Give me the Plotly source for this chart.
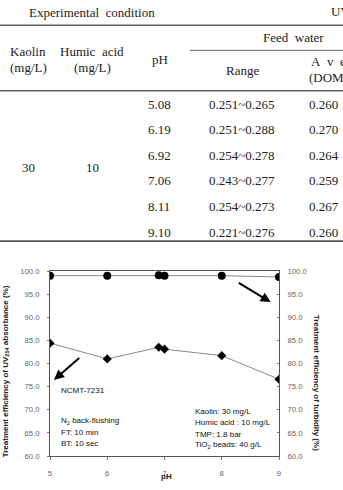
import plotly.graph_objects as go

# ---- data ----
table_ph = ["5.08", "6.19", "6.92", "7.06", "8.11", "9.10"]
table_range = ["0.251~0.265", "0.251~0.288", "0.254~0.278", "0.243~0.277", "0.254~0.273", "0.221~0.276"]
table_avg = ["0.260", "0.270", "0.264", "0.259", "0.267", "0.260"]
kaolin = "30"
humic = "10"

ph_plot = [5, 6, 6.9, 7, 8, 9]
uv_eff = [84.4, 81.0, 83.5, 83.1, 81.7, 76.6]
turb_eff = [99.0, 99.0, 99.1, 99.0, 99.0, 98.7]

W, H = 343, 490
L, R, T, B = 50, 279, 271, 463

def px(x):
    return (x - L) / (R - L)

def py(y):
    return (B - y) / (B - T)

fig = go.Figure()
fig.add_trace(go.Scatter(x=ph_plot, y=uv_eff, mode="lines+markers",
                         line=dict(color="#8a8a8a", width=1),
                         marker=dict(symbol="diamond", size=7, color="black"),
                         yaxis="y", showlegend=False))
fig.add_trace(go.Scatter(x=ph_plot, y=turb_eff, mode="lines+markers",
                         line=dict(color="#8a8a8a", width=1),
                         marker=dict(symbol="circle", size=8, color="black"),
                         yaxis="y2", showlegend=False))

tickfont = dict(family="Liberation Sans", size=7.7, color="#666")
yticks = [60, 65, 70, 75, 80, 85, 90, 95, 100]
ytext = ["%.1f" % v for v in yticks]

fig.update_layout(
    width=W, height=H,
    margin=dict(l=L, r=W - R, t=T, b=H - B, pad=0),
    paper_bgcolor="white", plot_bgcolor="white",
    xaxis=dict(range=[5, 9], tickvals=[5, 6, 7, 8, 9], showgrid=False, zeroline=False,
               showline=True, linecolor="#555", linewidth=1, mirror=True,
               ticks="outside", ticklen=3, tickcolor="#777", tickfont=tickfont,
               ticklabelstandoff=7),
    yaxis=dict(range=[60, 100], tickvals=yticks, ticktext=ytext, showgrid=False, zeroline=False,
               showline=True, linecolor="#555", linewidth=1,
               ticks="outside", ticklen=2, tickcolor="#777", tickfont=tickfont,
               ticklabelstandoff=6),
    yaxis2=dict(range=[60, 100], tickvals=yticks, ticktext=ytext, overlaying="y", side="right",
                showgrid=False, zeroline=False, showline=True, linecolor="#555", linewidth=1,
                ticks="inside", ticklen=2, tickcolor="#777", tickfont=tickfont,
                ticklabelstandoff=6),
)

ann = []
def txt(x, y, s, size=13, family="Liberation Serif", color="#222", xanchor="center", angle=0,
        bold=False, yanchor="middle"):
    if bold:
        s = "<b>" + s + "</b>"
    ann.append(dict(x=px(x), y=py(y), xref="paper", yref="paper", text=s, showarrow=False,
                    xanchor=xanchor, yanchor=yanchor, textangle=angle, borderpad=0,
                    font=dict(family=family, size=size, color=color)))

# ---- table ----
txt(92, 3, "Experimental&nbsp;&nbsp;condition")
txt(330, 3, "UV<sub>254</sub>", xanchor="left")
txt(293, 29, "Feed&nbsp;&nbsp;water")
txt(28, 43, "Kaolin")
txt(28, 60, "(mg/L)")
txt(92, 43, "Humic&nbsp;&nbsp;acid")
txt(92, 60, "(mg/L)")
txt(160, 51, "pH")
txt(242, 63, "Range")
txt(310, 54, "A&nbsp;&nbsp;v&nbsp;&nbsp;e&nbsp;&nbsp;r&nbsp;&nbsp;a&nbsp;&nbsp;g&nbsp;&nbsp;e", xanchor="left")
txt(308, 70, "(DOM, cm<sup>-1</sup>)", xanchor="left")
row_y = [98, 124, 150.7, 177.3, 204.3, 231]
for yy, p, r, a in zip(row_y, table_ph, table_range, table_avg):
    txt(159, yy, p)
    txt(242, yy, r)
    txt(308, yy, a, xanchor="left")
txt(28, 164, kaolin)
txt(92, 164, humic)

shapes = []
def hline(x0, x1, y, w=1.3, c="#666"):
    shapes.append(dict(type="line", xref="paper", yref="paper", x0=px(x0), x1=px(x1),
                       y0=py(y), y1=py(y), line=dict(color=c, width=w)))
hline(0, W, 16, 1.5)
hline(190, W, 42, 1)
hline(0, W, 84, 1.5)
hline(0, W, 240, 1.8, "#555")

# ---- chart labels ----
sans = "Liberation Sans"
txt(6, 375, "Treatment efficiency of UV<sub>254</sub> absorbance (%)", size=8, family=sans,
    color="#222", angle=-90, bold=True)
txt(316, 387, "Treatment efficiency of turbidity (%)", size=8, family=sans,
    color="#222", angle=90, bold=True)
txt(166, 490, "pH", size=8, family=sans, color="#222", bold=True, yanchor="bottom")

txt(60, 395, "NCMT-7231", size=8, family=sans, color="#111", xanchor="left")
txt(60, 426.7, "N<sub>2</sub> back-flushing", size=8, family=sans, color="#111", xanchor="left")
txt(60, 438.5, "FT: 10 min", size=8, family=sans, color="#111", xanchor="left")
txt(60, 450, "BT: 10 sec", size=8, family=sans, color="#111", xanchor="left")
txt(194, 416.7, "Kaolin: 30 mg/L", size=8, family=sans, color="#111", xanchor="left")
txt(194, 428.7, "Humic acid : 10 mg/L", size=8, family=sans, color="#111", xanchor="left")
txt(194, 440.3, "TMP: 1.8 bar", size=8, family=sans, color="#111", xanchor="left")
txt(194, 451.7, "TiO<sub>2</sub> beads: 40 g/L", size=8, family=sans, color="#111", xanchor="left")

# arrows (data coords)
def dx(x):
    return 5 + (x - L) / ((R - L) / 4)
def dy(y):
    return 100 - (y - T) / ((B - T) / 40)
ann.append(dict(x=dx(54), y=dy(384), ax=dx(80.7), ay=dy(360), xref="x", yref="y",
                axref="x", ayref="y", showarrow=True, arrowhead=2, arrowsize=1,
                arrowwidth=2, arrowcolor="black", text=""))
ann.append(dict(x=dx(270.7), y=dy(303.3), ax=dx(237.3), ay=dy(282.3), xref="x", yref="y",
                axref="x", ayref="y", showarrow=True, arrowhead=2, arrowsize=1,
                arrowwidth=2, arrowcolor="black", text=""))

fig.update_layout(annotations=ann, shapes=shapes)
fig.write_html("out.html")
